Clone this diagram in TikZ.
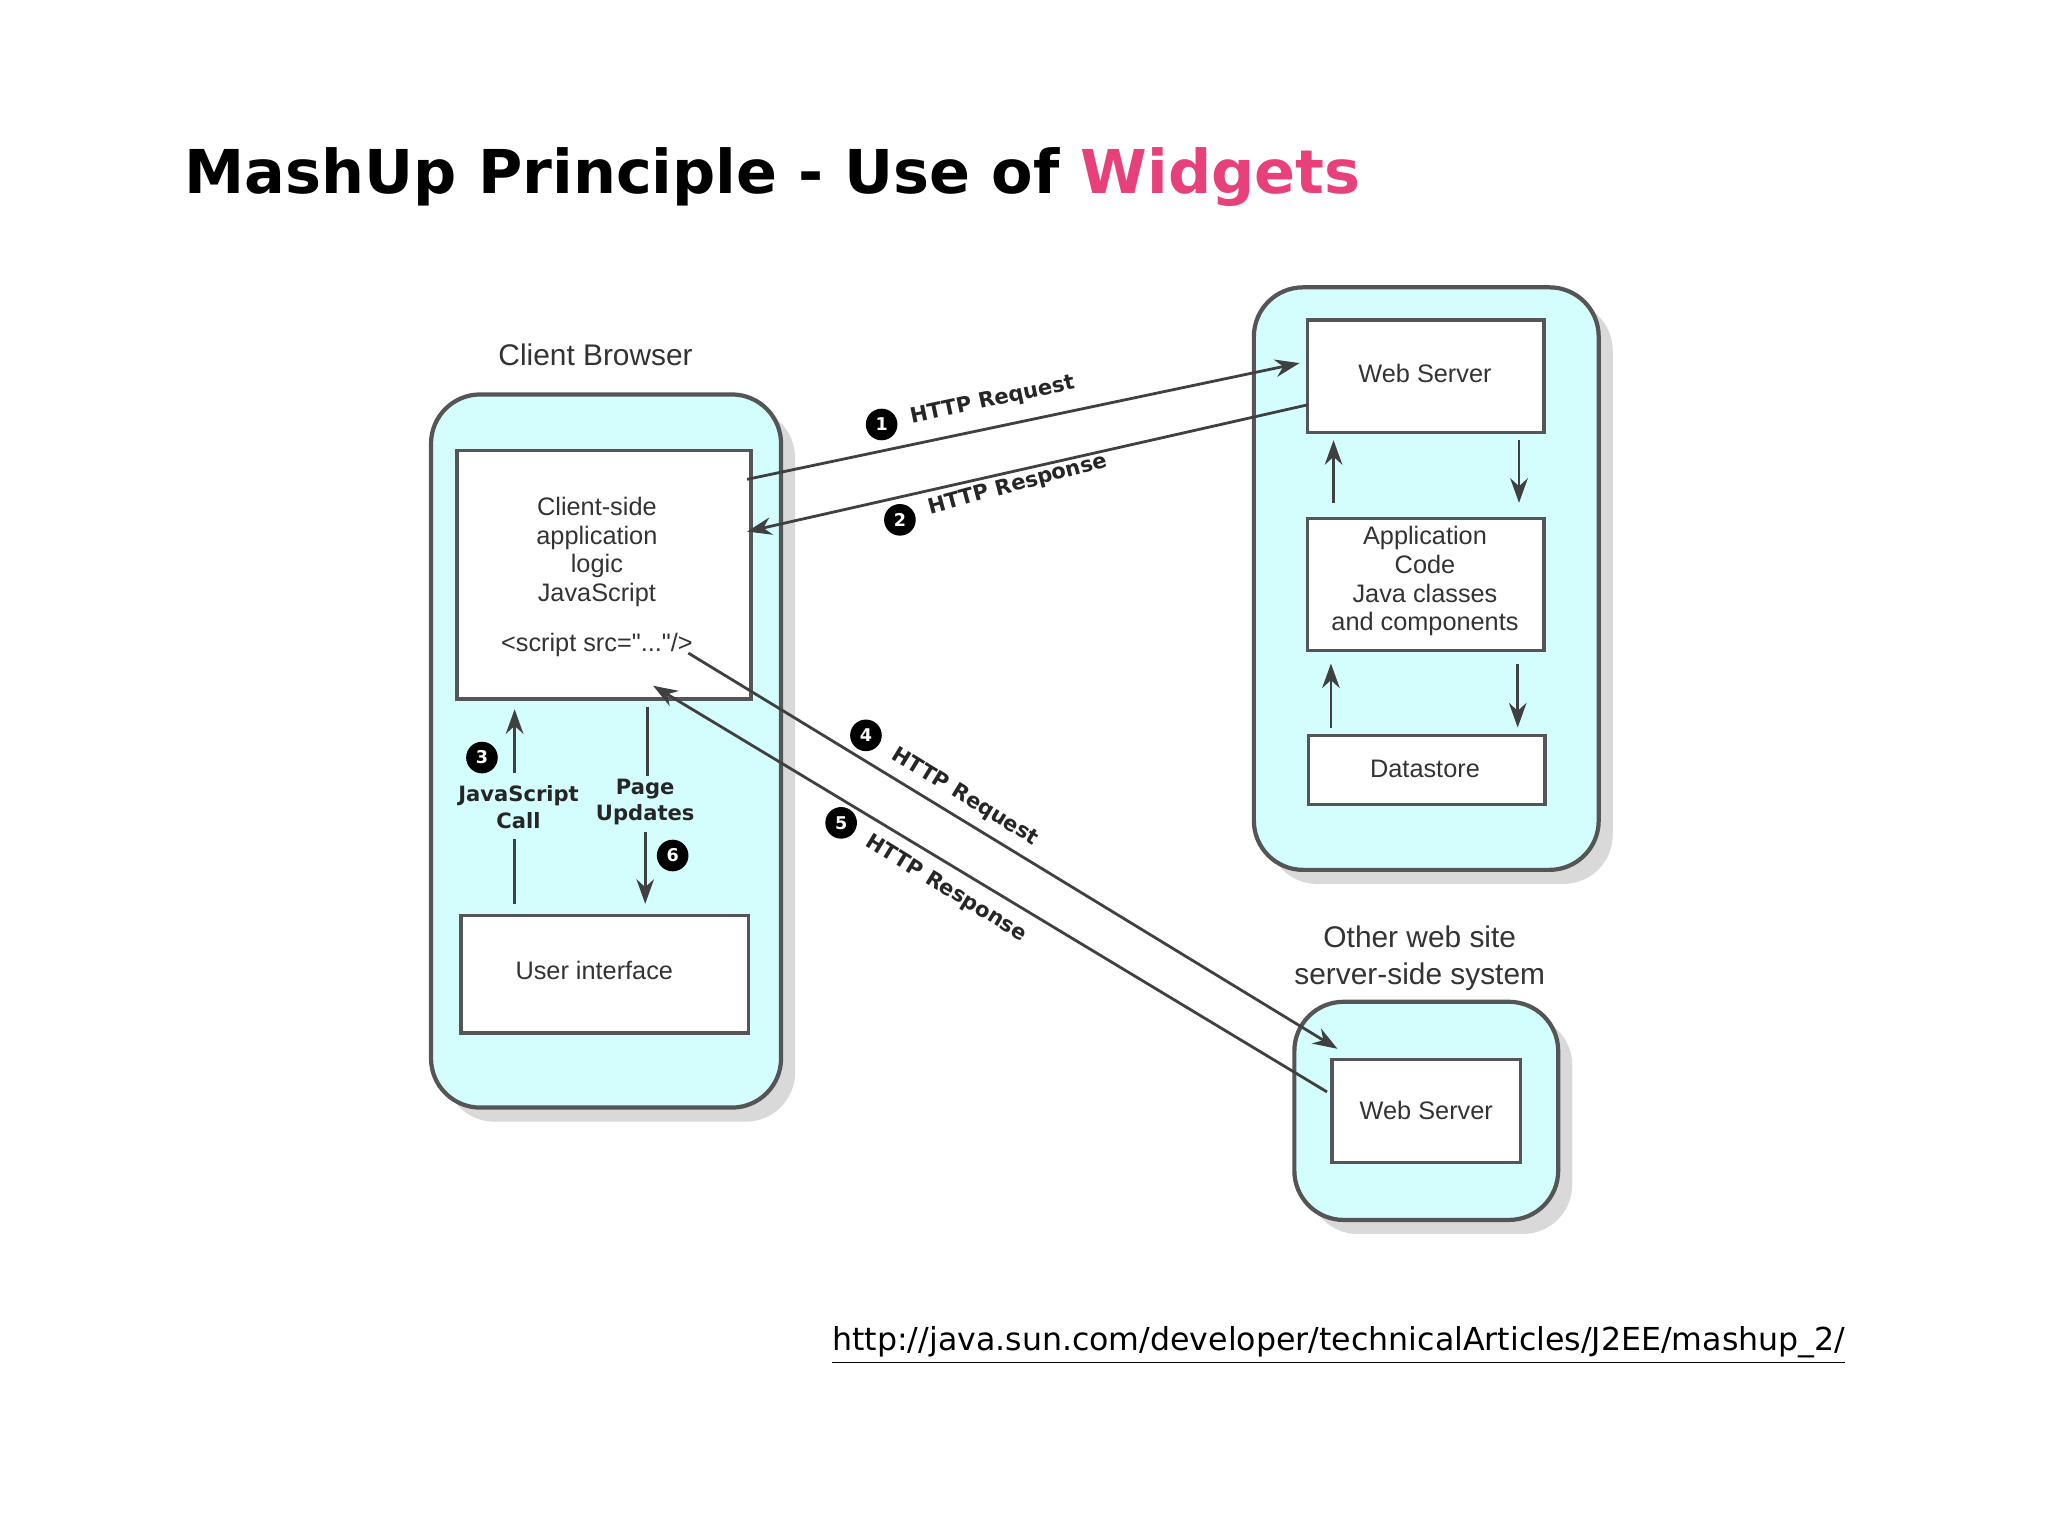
\documentclass[tikz,border=0pt]{standalone}
\usepackage{fontspec}
\setmainfont{DejaVu Sans}
\newfontfamily\arialf{Liberation Sans}
\usetikzlibrary{arrows.meta,shadows}
\definecolor{cy}{HTML}{D4FEFE}
\definecolor{pink}{HTML}{E8407A}
\definecolor{edge}{HTML}{555555}
\begin{document}
\begin{tikzpicture}[x=0.01306cm,y=-0.01306cm,
 outer/.style={draw=edge,line width=1.2pt,fill=cy,rounded corners=14pt,drop shadow={shadow xshift=4pt,shadow yshift=-4pt,opacity=0.3}},
 box/.style={draw=edge,line width=1pt,fill=white},
 txt/.style={font=\arialf\fontsize{7.2}{8.2}\selectfont,text=black!80,align=center},
 lbl/.style={font=\bfseries\fontsize{6}{7.6}\selectfont,text=black!85},
 num/.style={circle,fill=black,text=white,inner sep=0pt,minimum size=9pt,font=\bfseries\fontsize{5}{6}\selectfont},
 arr/.style={draw=black!75,line width=0.8pt,-{Stealth[length=7pt,width=5pt]}},
 ln/.style={draw=black!75,line width=0.8pt}]
\useasboundingbox (0,0) rectangle (1568,1176);
\node[anchor=base west,font=\bfseries\fontsize{17.2}{20}\selectfont] (title) at (132,148) {MashUp Principle - Use of \textcolor{pink}{Widgets}};
% client
\draw[outer] (330,302) rectangle (598,848);
\node[txt,font=\arialf\fontsize{8.5}{10}\selectfont] (cbl) at (456,272) {Client Browser};
\draw[box] (350,345) rectangle (575,535);
\node[txt,anchor=north] (cl) at (457,371) {Client-side\\application\\logic\\JavaScript\\[6pt]<script src="..."/>};
\draw[box] (353,701) rectangle (573,791);
\node[txt] (ui) at (455,743) {User interface};
% server
\draw[outer] (960,220) rectangle (1224,666);
\draw[box] (1001,245) rectangle (1182,331);
\node[txt] (ws1) at (1091,286) {Web Server};
\draw[box] (1001,397) rectangle (1182,498);
\node[txt] (app) at (1091,445) {Application\\Code\\Java classes\\and components};
\draw[box] (1002,563) rectangle (1183,616);
\node[txt] (ds) at (1091,589) {Datastore};
% other
\node[txt,font=\arialf\fontsize{8.5}{10.5}\selectfont] (otl) at (1087,734) {Other web site\\server-side system};
\draw[outer] (991,767) rectangle (1193,934);
\draw[box] (1020,811) rectangle (1164,890);
\node[txt] (ws2) at (1092,850) {Web Server};
% coordinates
\coordinate (a1s) at (572,367); \coordinate (a1e) at (995,278);
\coordinate (a2s) at (1001,310); \coordinate (a2e) at (572,407);
\coordinate (a4s) at (527,500); \coordinate (a4e) at (1024,803);
\coordinate (a5s) at (1016,836); \coordinate (a5e) at (500,525);
\draw[arr] (a1s) -- (a1e);
\draw[arr] (a2s) -- (a2e);
\draw[arr] (a4s) -- (a4e);
\draw[arr] (a5s) -- (a5e);
\node[lbl,rotate=12,anchor=west] (t1) at (688,322) {HTTP Request};
\node[num] (n1) at (675,325) {1};
\node[lbl,rotate=15,anchor=west] (t2) at (702,392) {HTTP Response};
\node[num] (n2) at (689,398) {2};
\node[num] (n4) at (663,563) {4};
\node[lbl,rotate=-31.4,anchor=west] (t4) at (676,572) {HTTP Request};
\node[num] (n5) at (644,630) {5};
\node[lbl,rotate=-31.4,anchor=west] (t5) at (656,639) {HTTP Response};
% client verticals
\coordinate (j1) at (394,692); \coordinate (j2) at (394,642);
\coordinate (j3) at (394,592); \coordinate (j4) at (394,543);
\draw[ln] (j1) -- (j2); \draw[arr] (j3) -- (j4);
\node[lbl,align=center] (jsc) at (397,618) {JavaScript\\Call};
\node[num] (n3) at (369,580) {3};
\coordinate (p1) at (496,541); \coordinate (p2) at (496,594);
\coordinate (p3) at (494,637); \coordinate (p4) at (494,692);
\draw[ln] (p1) -- (p2); \draw[arr] (p3) -- (p4);
\node[lbl,align=center] (pu) at (494,614) {Page\\Updates};
\node[num] (n6) at (515,655) {6};
% server verticals
\coordinate (s1) at (1021,385); \coordinate (s2) at (1021,337);
\coordinate (s3) at (1163,337); \coordinate (s4) at (1163,385);
\coordinate (s5) at (1019,557); \coordinate (s6) at (1019,508);
\coordinate (s7) at (1162,508); \coordinate (s8) at (1162,557);
\draw[arr] (s1) -- (s2); \draw[arr] (s3) -- (s4);
\draw[arr] (s5) -- (s6); \draw[arr] (s7) -- (s8);
% url
\node[font=\fontsize{9}{10}\selectfont] (url) at (1025,1030) {\underline{http://java.sun.com/developer/technicalArticles/J2EE/mashup\_2/}};
\end{tikzpicture}
\end{document}
